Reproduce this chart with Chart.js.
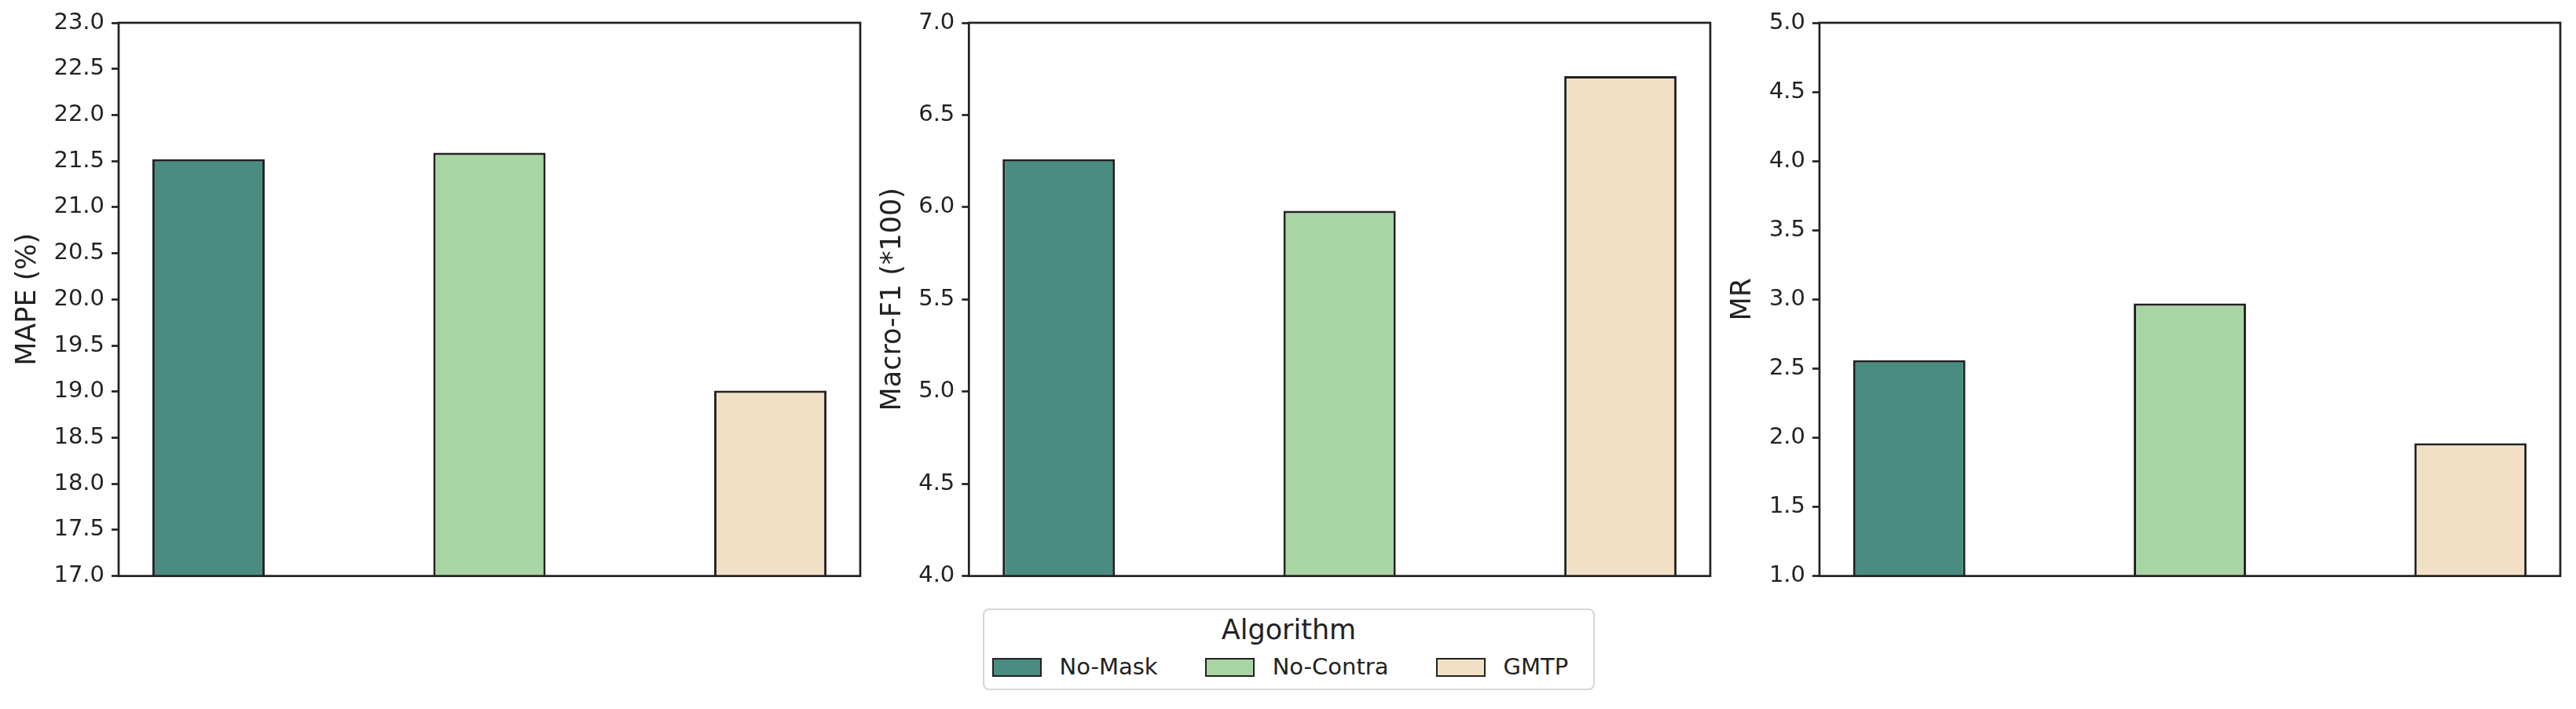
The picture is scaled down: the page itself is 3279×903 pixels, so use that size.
<!DOCTYPE html>
<html>
<head>
<meta charset="utf-8">
<script src="https://cdn.jsdelivr.net/npm/chart.js@4.4.1/dist/chart.umd.min.js"></script>
<style>
  html, body { margin: 0; padding: 0; background: #fff; }
  body { width: 3279px; height: 903px; position: relative; overflow: hidden; font-family: 'DejaVu Sans', sans-serif; }
  canvas { position: absolute; top: 0; }
  #legend {
    position: absolute; left: 1251px; top: 775px; width: 779px; height: 104px;
    box-sizing: border-box; border: 2.5px solid #d6d6d6; border-radius: 8px; color: #222;
  }
  #legend .title {
    position: absolute; left: 0; right: 0; top: 8px; text-align: center;
    font-size: 35px; line-height: 1;
  }
  #legend .items {
    position: absolute; left: 9.5px; top: 58px; display: flex; gap: 60px;
    font-size: 29px; line-height: 1;
  }
  #legend .item { display: flex; align-items: flex-start; }
  #legend .swatch {
    width: 63px; height: 24px; box-sizing: border-box; border: 2.7px solid #222;
    margin-top: 2.5px; margin-right: 23px;
  }
</style>
</head>
<body>
<canvas id="mape" width="1100" height="760" style="left:0px"></canvas>
<canvas id="macro" width="1081" height="760" style="left:1101px"></canvas>
<canvas id="mr" width="1081" height="760" style="left:2183px"></canvas>
<div id="legend">
  <div class="title">Algorithm</div>
  <div class="items" id="legendItems"></div>
</div>
<script>
const algorithms = ['No-Mask', 'No-Contra', 'GMTP'];
const barColors = ['#4a8c82', '#a9d5a4', '#f2e0c6'];
const positions = [0, 1, 2];

const mapeValues = [21.52, 21.59, 19.01];
const macroF1Values = [6.26, 5.98, 6.71];
const mrValues = [2.56, 2.97, 1.96];

const mapeRange = [17, 23];
const macroF1Range = [4, 7];
const mrRange = [1, 5];

const EDGE = '#222222';
const TEXT = '#222222';
const FONT = "'DejaVu Sans', sans-serif";

// top/right spines, drawn over the bars like matplotlib does
const framePlugin = {
  id: 'frame',
  afterDraw(chart) {
    const { ctx, chartArea: a } = chart;
    ctx.save();
    ctx.strokeStyle = EDGE;
    ctx.lineWidth = 2.7;
    ctx.strokeRect(a.left, a.top, a.right - a.left, a.bottom - a.top);
    ctx.restore();
  }
};

function makePanel(canvasId, values, yTitle, range, axisWidth) {
  return new Chart(document.getElementById(canvasId), {
    type: 'bar',
    data: {
      datasets: [{
        label: yTitle,
        data: positions.map((x, i) => ({ x, y: values[i] })),
        backgroundColor: barColors,
        borderColor: EDGE,
        borderWidth: 3,
        borderSkipped: false,
        categoryPercentage: 1,
        barPercentage: 0.4,
      }]
    },
    options: {
      responsive: false,
      animation: false,
      devicePixelRatio: 1,
      layout: { padding: { top: 29, right: 5, bottom: 23, left: 0 } },
      plugins: { legend: { display: false }, tooltip: { enabled: false } },
      scales: {
        x: {
          type: 'linear',
          min: -0.32,
          max: 2.32,
          offset: false,
          bounds: 'data',
          grid: { offset: false },
          display: false,
          afterBuildTicks: s => { s.ticks = positions.map(v => ({ value: v })); }
        },
        y: {
          min: range[0],
          max: range[1],
          afterFit: s => { s.width = axisWidth; },
          ticks: {
            stepSize: 0.5,
            callback: v => Number(v).toFixed(1),
            color: TEXT,
            font: { family: FONT, size: 29 },
            padding: 9
          },
          grid: {
            drawOnChartArea: false,
            drawTicks: true,
            tickLength: 9,
            tickColor: EDGE,
            tickWidth: 2.7
          },
          border: { display: false },
          title: {
            display: true,
            text: yTitle,
            color: TEXT,
            font: { family: FONT, size: 35 },
            padding: { top: 15, bottom: 0 }
          }
        }
      }
    },
    plugins: [framePlugin]
  });
}

makePanel('mape', mapeValues, 'MAPE (%)', mapeRange, 151);
makePanel('macro', macroF1Values, 'Macro-F1 (*100)', macroF1Range, 132.3);
makePanel('mr', mrValues, 'MR', mrRange, 133);

const legendItems = document.getElementById('legendItems');
algorithms.forEach((name, i) => {
  const item = document.createElement('div');
  item.className = 'item';
  const sw = document.createElement('div');
  sw.className = 'swatch';
  sw.style.background = barColors[i];
  const label = document.createElement('span');
  label.textContent = name;
  item.appendChild(sw);
  item.appendChild(label);
  legendItems.appendChild(item);
});
</script>
</body>
</html>
